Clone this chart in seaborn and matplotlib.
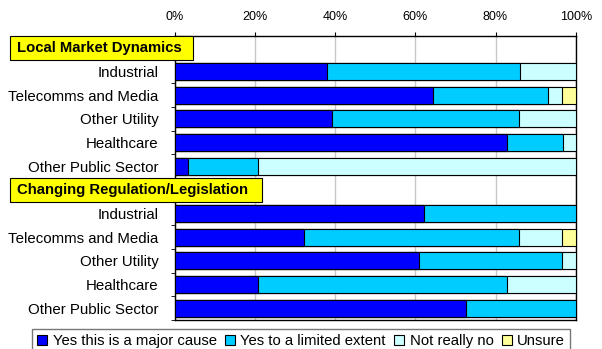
import numpy as np
import pandas as pd
import matplotlib.pyplot as plt
import matplotlib.transforms as mtransforms
from matplotlib.patches import Patch, Rectangle
from matplotlib.ticker import FuncFormatter
import seaborn as sns

plt.rcParams['font.family'] = ['Liberation Sans', 'DejaVu Sans']

# Data (percent of respondents)
groups = ['Local Market Dynamics', 'Changing Regulation/Legislation']
sectors = ['Industrial', 'Telecomms and Media', 'Other Utility', 'Healthcare', 'Other Public Sector']
responses = ['Yes this is a major cause', 'Yes to a limited extent', 'Not really no', 'Unsure']
colors = ['#0000FF', '#00CCFF', '#CCFFFF', '#FFFF99']

market_major = [37.9, 64.4, 39.2, 82.9, 3.3]
market_limited = [48.3, 28.6, 46.6, 13.9, 17.3]
market_notreally = [13.8, 3.5, 14.2, 3.2, 79.4]
market_unsure = [0.0, 3.5, 0.0, 0.0, 0.0]

regulation_major = [62.2, 32.1, 60.9, 20.6, 72.7]
regulation_limited = [37.8, 53.7, 35.6, 62.3, 27.3]
regulation_notreally = [0.0, 10.7, 3.5, 17.1, 0.0]
regulation_unsure = [0.0, 3.5, 0.0, 0.0, 0.0]

# build one long table, header rows stay empty slots
records = []
order = []
tick_labels = []
group_data = [
    (market_major, market_limited, market_notreally, market_unsure),
    (regulation_major, regulation_limited, regulation_notreally, regulation_unsure),
]
for g, (maj, lim, nr, uns) in zip(groups, group_data):
    order.append(g)
    tick_labels.append('')
    for i, s in enumerate(sectors):
        key = g + '|' + s
        order.append(key)
        tick_labels.append(s)
        records.append({'row': key, responses[0]: maj[i], responses[1]: lim[i],
                        responses[2]: nr[i], responses[3]: uns[i]})
df = pd.DataFrame(records)
cum = df[responses].cumsum(axis=1)
cum['row'] = df['row']

fig = plt.figure(figsize=(6.02, 3.49), dpi=100)
ax = fig.add_axes([175 / 602, 1 - 320 / 349, 400.7 / 602, 284 / 349])

# stacked bars: draw cumulative totals from the back
for resp, col in reversed(list(zip(responses, colors))):
    sns.barplot(data=cum, x=resp, y='row', order=order, color=col, saturation=1,
                edgecolor='black', linewidth=0.8, width=0.72, errorbar=None,
                orient='h', ax=ax, zorder=3)

ax.set_xlim(0, 100)
ax.set_ylim(len(order) - 0.5, -0.5)
ax.set_xlabel('')
ax.set_ylabel('')
ax.xaxis.tick_top()
ax.set_xticks([0, 20, 40, 60, 80, 100])
ax.xaxis.set_major_formatter(FuncFormatter(lambda v, p: f'{v:.0f}%'))
ax.tick_params(axis='x', labelsize=9, length=3, pad=6, colors='black')
ax.set_yticks(range(len(order)))
ax.set_yticklabels(tick_labels, fontsize=10.8)
ax.set_yticks(np.arange(-0.5, len(order), 1), minor=True)
ax.tick_params(axis='y', which='major', length=0, pad=12)
ax.tick_params(axis='y', which='minor', length=3)
ax.set_axisbelow(True)
ax.xaxis.grid(True, color='#C8C8C8', linewidth=1, zorder=0)
for sp in ax.spines.values():
    sp.set_color('black')
    sp.set_linewidth(1)

# yellow group headers
trans = mtransforms.blended_transform_factory(fig.transFigure, ax.transData)
header_right = [193, 262]
for g, right in zip(groups, header_right):
    y = order.index(g)
    ax.add_patch(Rectangle((10 / 602, y - 0.5), (right - 10) / 602, 1.0, transform=trans,
                           facecolor='#FFFF00', edgecolor='black', linewidth=0.8,
                           clip_on=False, zorder=5))
    ax.text(17 / 602, y, g, transform=trans, ha='left', va='center',
            fontsize=10.7, fontweight='bold', zorder=6, clip_on=False)

handles = [Patch(facecolor=c, edgecolor='black', linewidth=0.8) for c in colors]
fig.legend(handles, responses, loc='upper center', bbox_to_anchor=(301 / 602, 1 - 329 / 349),
           ncol=4, fontsize=10.7, frameon=True, fancybox=False, edgecolor='#555555',
           handlelength=0.7, handleheight=0.7, handletextpad=0.35, columnspacing=0.55,
           borderpad=0.35, borderaxespad=0)

fig.savefig('out.png', dpi=100, facecolor='white')
